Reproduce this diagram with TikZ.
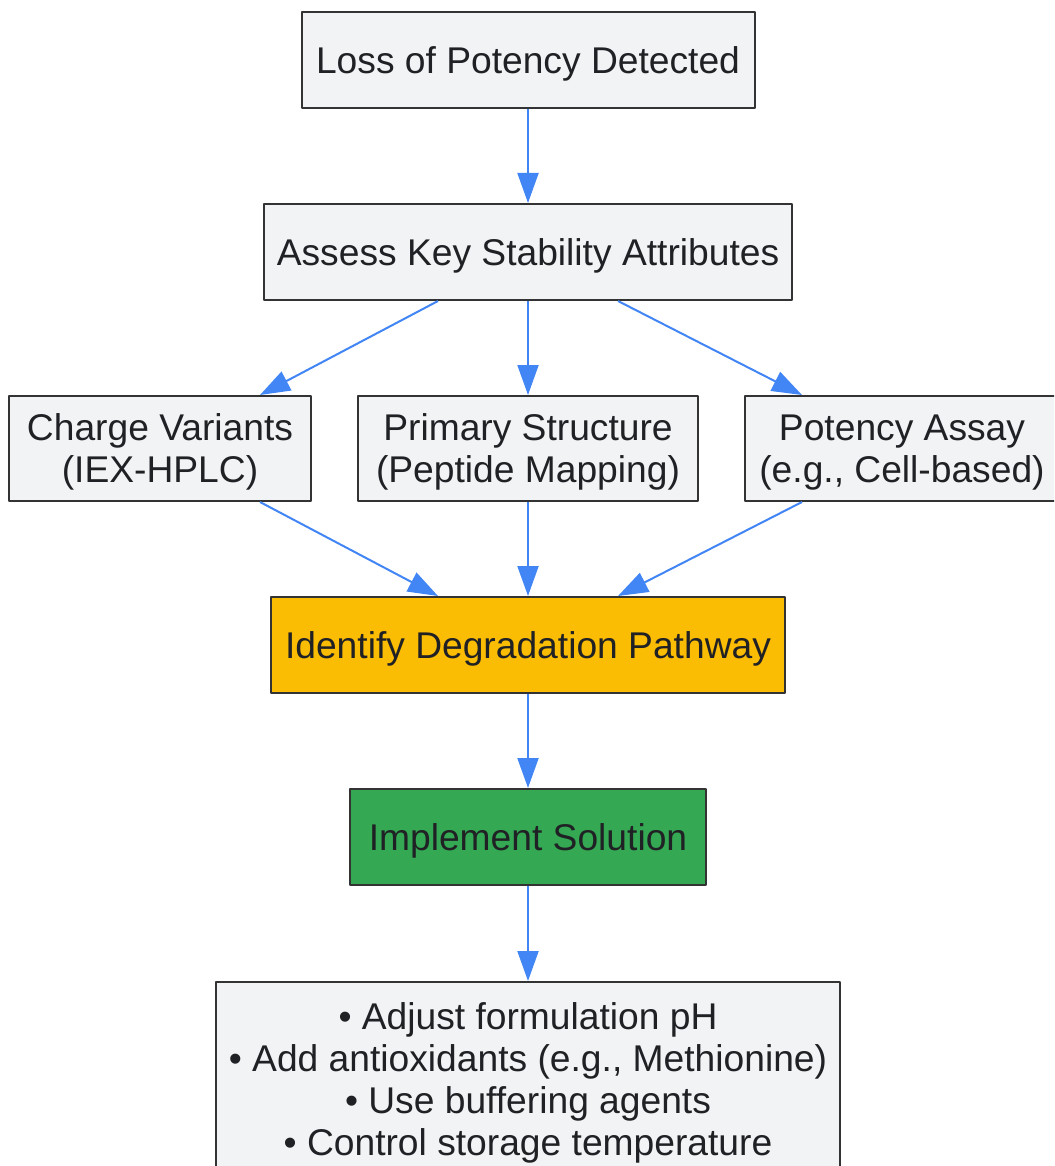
\documentclass[tikz,border=0pt]{standalone}
\usepackage{fontspec}
\setmainfont{Liberation Sans}
\usetikzlibrary{arrows.meta}
\definecolor{boxgray}{HTML}{F1F3F4}
\definecolor{boxline}{HTML}{333333}
\definecolor{txtdark}{HTML}{202124}
\definecolor{arrblue}{HTML}{4285F4}
\definecolor{pathyellow}{HTML}{FBBC04}
\definecolor{solgreen}{HTML}{34A853}
\begin{document}
\begin{tikzpicture}[x=0.75pt, y=-0.75pt, font=\fontsize{27.9}{31.5}\selectfont, line join=round,
	box/.style={draw=boxline, line width=1.5pt, fill=boxgray, text=txtdark, inner xsep=0pt, inner ysep=0pt, text depth=0pt, minimum height=72pt, align=center, anchor=center},
	twoline/.style={box, minimum height=78.75pt},
	arr/.style={draw=arrblue, line width=1.5pt, -{Triangle[length=22.5pt,width=15.75pt]}}]
			%			\draw[gray,step=100] (0,0) grid (1054,1166);
			\useasboundingbox (0,0) rectangle (1054,1166);
			\clip (0,0) rectangle (1054,1166);
			
			\node[box, minimum width=339.75pt] (loss) at (528,60) {Loss of Potency Detected};
			\node[box, minimum width=396pt] (assess) at (528,252) {Assess Key Stability Attributes};
			\node[twoline, minimum width=226.5pt] (charge) at (160,448.5) {Charge Variants\\(IEX-HPLC)};
			\node[twoline, minimum width=255pt] (primary) at (528,448.5) {Primary Structure\\(Peptide Mapping)};
			\node[twoline, minimum width=236pt] (potency) at (902,448.5) {Potency Assay\\(e.g., Cell-based)};
			\node[box, minimum width=385.5pt, fill=pathyellow] (identify) at (528,645) {Identify Degradation Pathway};
			\node[box, minimum width=267pt, fill=solgreen] (implement) at (528,837) {Implement Solution};
			\node[box, minimum width=468pt, minimum height=145.5pt, anchor=north] (tips) at (528,981)
			{• Adjust formulation pH\\• Add antioxidants (e.g., Methionine)\\• Use buffering agents\\• Control storage temperature};
			
			\draw[arr] (loss.south) -- (assess.north);
			\draw[arr] ([xshift=-67.5pt]assess.south) -- ([xshift=75pt]charge.north);
			\draw[arr] (assess.south) -- (primary.north);
			\draw[arr] ([xshift=67.5pt]assess.south) -- ([xshift=-75pt]potency.north);
			\draw[arr] ([xshift=75pt]charge.south) -- ([xshift=-67.5pt]identify.north);
			\draw[arr] (primary.south) -- (identify.north);
			\draw[arr] ([xshift=-75pt]potency.south) -- ([xshift=67.5pt]identify.north);
			\draw[arr] (identify.south) -- (implement.north);
			\draw[arr] (implement.south) -- (tips.north);
		\end{tikzpicture}
\end{document}
